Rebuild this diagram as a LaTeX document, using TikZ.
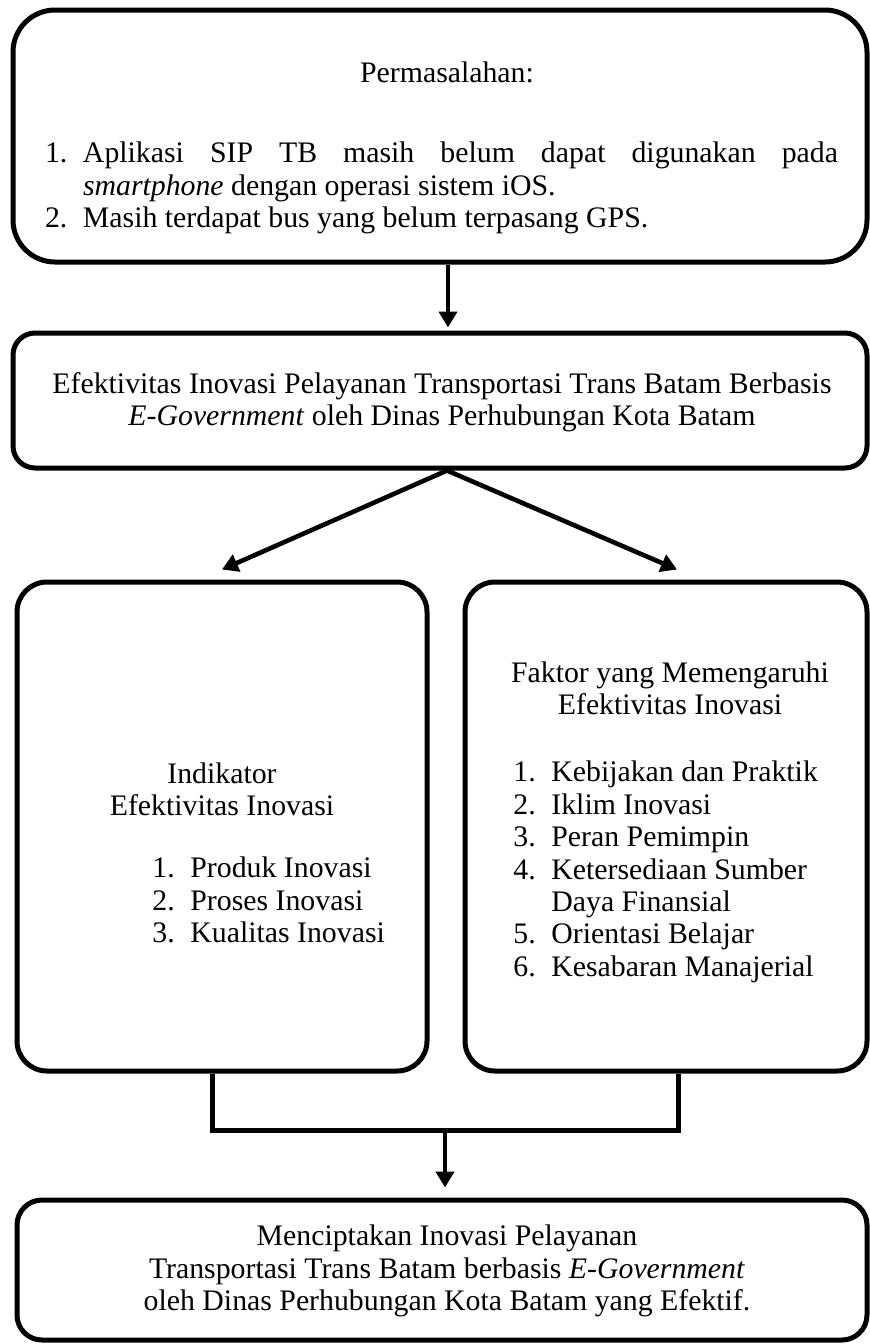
\documentclass[tikz,border=0pt]{standalone}
\usepackage{fontspec}
\setmainfont{Liberation Serif}
\usetikzlibrary{arrows.meta}

\begin{document}
\begin{tikzpicture}[x=0.5pt, y=-0.5pt,
  box/.style={draw, line width=2.5pt, inner sep=0pt},
  txt/.style={font=\fontsize{14.9}{16.2}\selectfont, inner sep=0pt},
  arr/.style={line width=2.3pt, -{Triangle[length=8pt, width=9pt]}}]
  \useasboundingbox (0,0) rectangle (869,1344);
  \node[box, rounded corners=21pt, minimum width=427pt, minimum height=126pt] (masalah) at (440,136) {};
  \node[box, rounded corners=11pt, minimum width=427pt, minimum height=67.5pt] (efektivitas) at (440,400.5) {};
  \node[box, rounded corners=15pt, minimum width=205pt, minimum height=244.5pt] (indikator) at (222,826.5) {};
  \node[box, rounded corners=15pt, minimum width=201pt, minimum height=244.5pt] (faktor) at (666,826.5) {};
  \node[box, rounded corners=12.5pt, minimum width=425pt, minimum height=70pt] (hasil) at (442,1270) {};
  \node[txt] (masalah-judul) at (447,72) {Permasalahan:};
  \node[txt, text width=396.5pt, align=justify] (masalah-daftar) at (441.5,188) {%
    \noindent\hangindent=19pt\hangafter=1\makebox[19pt][l]{1.}Aplikasi SIP TB masih belum dapat digunakan pada\linebreak
    \textit{smartphone} dengan operasi sistem iOS.\par
    \noindent\hangindent=19pt\hangafter=1\makebox[19pt][l]{2.}Masih terdapat bus yang belum terpasang GPS.\par};
  \node[txt, align=center] (efektivitas-teks) at (442,402) {Efektivitas Inovasi Pelayanan Transportasi Trans Batam Berbasis\\
    \textit{E-Government} oleh Dinas Perhubungan Kota Batam};
  \node[txt, align=center] (indikator-judul) at (222,789) {Indikator\\Efektivitas Inovasi};
  \node[txt, align=left, anchor=west] (indikator-daftar) at (152,900) {%
    \makebox[19pt][l]{1.}Produk Inovasi\\
    \makebox[19pt][l]{2.}Proses Inovasi\\
    \makebox[19pt][l]{3.}Kualitas Inovasi};
  \node[txt, align=center] (faktor-judul) at (670,688.5) {Faktor yang Memengaruhi\\Efektivitas Inovasi};
  \node[txt, align=left, anchor=west] (faktor-daftar) at (513,872) {%
    \makebox[19pt][l]{1.}Kebijakan dan Praktik\\
    \makebox[19pt][l]{2.}Iklim Inovasi\\
    \makebox[19pt][l]{3.}Peran Pemimpin\\
    \makebox[19pt][l]{4.}Ketersediaan Sumber\\
    \hspace*{19pt}Daya Finansial\\
    \makebox[19pt][l]{5.}Orientasi Belajar\\
    \makebox[19pt][l]{6.}Kesabaran Manajerial};
  \node[txt, align=center] (hasil-teks) at (447,1271) {Menciptakan Inovasi Pelayanan\\
    Transportasi Trans Batam berbasis \textit{E-Government}\\
    oleh Dinas Perhubungan Kota Batam yang Efektif.};
  \coordinate (gabung) at (445,1130);
  \draw[arr, shorten >=1.5pt] ([xshift=4pt]masalah.south) -- ([xshift=4pt]efektivitas.north);
  \draw[arr] ([xshift=3.5pt]efektivitas.south) -- ([yshift=5pt]indikator.north);
  \draw[arr] ([xshift=3.5pt]efektivitas.south) -- ([xshift=5.5pt,yshift=5pt]faktor.north);
  \draw[line width=2.5pt] ([xshift=-5pt]indikator.south) |- (gabung) -| ([xshift=6pt]faktor.south);
  \draw[arr, shorten >=5pt] (gabung) -- (gabung |- hasil.north);
\end{tikzpicture}
\end{document}
